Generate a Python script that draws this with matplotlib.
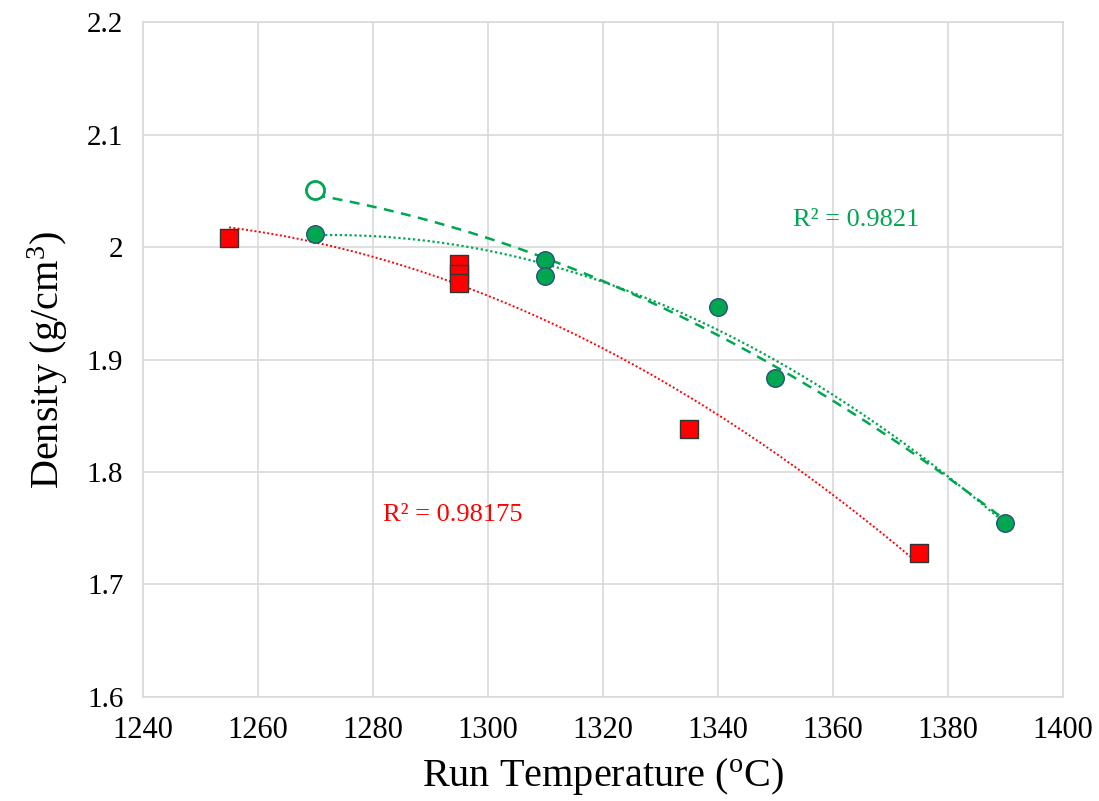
import numpy as np
import matplotlib.pyplot as plt

plt.rcParams['font.family'] = ['Liberation Serif', 'DejaVu Serif']

# red squares
red_temp = [1255, 1295, 1295, 1295, 1335, 1375]
red_dens = [2.008, 1.985, 1.976, 1.968, 1.838, 1.728]

# green filled circles
green_temp = [1270, 1310, 1310, 1340, 1350, 1390]
green_dens = [2.012, 1.989, 1.974, 1.947, 1.884, 1.755]

# green open circle
open_temp = [1270]
open_dens = [2.051]

red_r2 = "R² = 0.98175"
green_r2 = "R² = 0.9821"

RED = '#ff0000'
GREEN = '#00a650'
EDGE = '#2f4f7f'

fig, ax = plt.subplots(figsize=(10.99, 8.01), dpi=100)
fig.subplots_adjust(left=0.130, right=0.967, top=0.972, bottom=0.130)

# polynomial trend lines (order 2)
xr = np.linspace(min(red_temp), max(red_temp), 200)
pr = np.polyfit(red_temp, red_dens, 2)
ax.plot(xr, np.polyval(pr, xr), color=RED, ls=(0, (1, 1.2)), lw=1.4, zorder=2)

xg = np.linspace(min(green_temp), max(green_temp), 200)
pg = np.polyfit(green_temp, green_dens, 2)
ax.plot(xg, np.polyval(pg, xg), color=GREEN, ls=(0, (1, 1.2)), lw=1.6, zorder=2)

# dashed fit: open point in place of the filled one at 1270
alt_t = open_temp + green_temp[1:]
alt_d = open_dens + green_dens[1:]
pa = np.polyfit(alt_t, alt_d, 2)
ax.plot(xg, np.polyval(pa, xg), color=GREEN, ls=(0, (4, 3)), lw=1.8, zorder=2)

ax.scatter(red_temp, red_dens, marker='s', s=150, color=RED,
           edgecolor='#333333', linewidth=1.0, zorder=3)
ax.scatter(green_temp, green_dens, marker='o', s=160, color=GREEN,
           edgecolor=EDGE, linewidth=1.0, zorder=3)
ax.scatter(open_temp, open_dens, marker='o', s=170, facecolor='white',
           edgecolor=GREEN, linewidth=2.0, zorder=3)

ax.text(1281.7, 1.762, red_r2, color=RED, fontsize=19, va='center')
ax.text(1353, 2.024, green_r2, color=GREEN, fontsize=19, va='center')

ax.set_xlim(1240, 1400)
ax.set_ylim(1.6, 2.2)
ax.set_xticks(np.arange(1240, 1401, 20))
ax.set_yticks([1.6, 1.7, 1.8, 1.9, 2.0, 2.1, 2.2])
ax.set_yticklabels(['1.6', '1.7', '1.8', '1.9', '2', '2.1', '2.2'])
ax.tick_params(axis='x', length=0, labelsize=22, pad=14)
ax.tick_params(axis='y', length=0, labelsize=21, pad=14)
ax.grid(True, color='#d9d9d9', lw=1.2)
ax.set_axisbelow(True)
for s in ax.spines.values():
    s.set_color('#d9d9d9')
    s.set_linewidth(1.2)

ax.set_xlabel('Run Temperature ($\\mathregular{^o}$C)', fontsize=29, labelpad=8)
ax.set_ylabel('Density (g/cm$\\mathregular{^3}$)', fontsize=29, labelpad=12)

fig.savefig('out.png', dpi=100)
